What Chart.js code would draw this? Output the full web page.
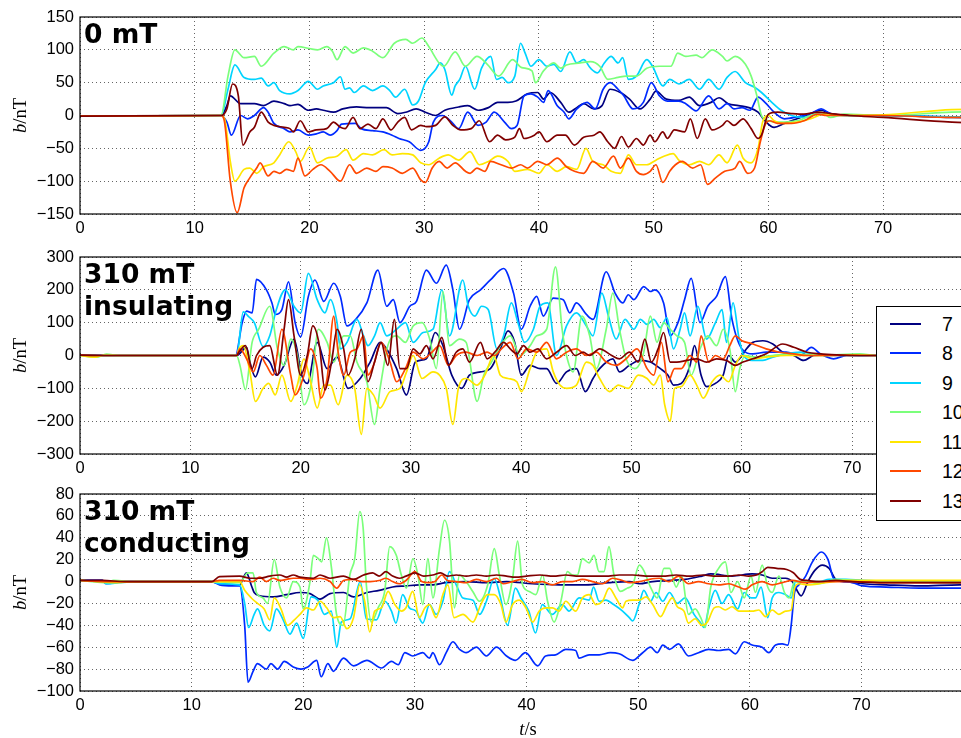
<!DOCTYPE html>
<html lang="en">
<head>
  <meta charset="UTF-8">
  <title>b/nT vs t/s</title>
  <script src="https://cdn.jsdelivr.net/npm/chart.js"></script>
  <style>
    html, body { margin: 0; padding: 0; background: #fff; }
    #page { position: relative; width: 961px; height: 738px; overflow: hidden; background: #fff; }
    #page canvas { position: absolute; left: 0; }
    #legend {
      position: absolute; left: 876px; top: 306px; width: 130px; height: 213px;
      border: 1.3px solid #000; background: #fff; z-index: 5;
      font-family: "Liberation Sans", Arial, sans-serif; font-size: 19.5px;
    }
    #legend .row { position: absolute; left: 0; height: 22px; width: 130px; }
    #legend .ln { position: absolute; left: 13px; top: 10px; width: 31px; height: 2px; }
    #legend .tx { position: absolute; left: 65px; top: 0; line-height: 22px; }
  </style>
</head>
<body>
  <div id="page">
    <canvas id="c1" width="1012" height="240" style="top:0px"></canvas>
    <canvas id="c2" width="1012" height="240" style="top:240px"></canvas>
    <canvas id="c3" width="1012" height="262" style="top:476px"></canvas>
    <div id="legend"></div>
  </div>

  <script>
    // probe numbers and their jet colours
    const seriesNames = ['7', '8', '9', '10', '11', '12', '13'];
    const seriesColors = ['#000080', '#002bff', '#00d4ff', '#7bff7b', '#ffe600', '#ff4800', '#800000'];

    const xTicks = [0, 10, 20, 30, 40, 50, 60, 70, 80];
    const yTicks1 = [-150, -100, -50, 0, 50, 100, 150];
    const yTicks2 = [-300, -200, -100, 0, 100, 200, 300];
    const yTicks3 = [-100, -80, -60, -40, -20, 0, 20, 40, 60, 80];

    // ---- panel 1 : 0 mT  ([t in s, b in nT])
    const p1s7 = [[0,-1],[12.3,0],[12.8,15],[13.1,30],[14,18],[15.2,18],[16,15],[16.9,22],[17.8,18],[18.3,15],[19,17],[19.9,8],[20.6,10],[21.2,8],[22.1,5],[22.9,10],[24.1,13],[25.2,12],[26.7,12],[27.7,3],[28.4,5],[29.3,10],[30.1,5],[31,0],[31.8,8],[33,13],[33.8,15],[34.7,8],[35.6,12],[36.4,20],[37.3,20],[38,22],[39,33],[39.9,35],[40.4,25],[41,35],[41.9,20],[42.6,5],[43.3,12],[43.9,18],[44.8,10],[45.5,15],[46.2,40],[47.1,35],[47.9,25],[48.8,10],[49.7,25],[50.2,37],[51.1,25],[52.2,23],[53.1,28],[54,15],[55,20],[55.7,27],[56.5,18],[57.4,15],[58.3,12],[59.1,5],[59.7,-8],[60.5,-18],[61.4,-12],[62.5,-5],[63.7,3],[64.6,8],[65.4,3],[67,0],[70,0],[76,-3],[80,-4]];
    const p1s8 = [[0,-1],[12.3,0],[12.8,-10],[13.2,-30],[14,0],[14.6,-5],[15.2,0],[16,12],[16.4,5],[16.9,-12],[17.8,-20],[18.3,-25],[19,-22],[19.9,-30],[20.6,-28],[21.2,-25],[21.8,-30],[22.4,-23],[22.8,-13],[24,-12],[24.5,-20],[25.5,-23],[26.4,-25],[27.2,-30],[27.8,-35],[28.7,-40],[29.7,-53],[30.4,-40],[30.8,-10],[31.6,0],[32.4,-10],[33,-20],[33.8,5],[34.7,-15],[35.4,-10],[36.1,5],[37,-10],[37.6,-20],[38.1,-15],[38.7,30],[39.3,33],[39.9,28],[40.4,20],[40.8,38],[41.6,15],[42.2,5],[42.6,-5],[43.3,10],[44.2,20],[44.9,10],[45.6,40],[46.2,50],[46.9,40],[47.4,30],[48.2,10],[49.1,20],[49.8,50],[50.5,30],[51.2,22],[52.2,22],[52.8,18],[53.7,7],[54.8,30],[55.7,10],[56.4,18],[57,10],[57.7,12],[58.4,8],[59.1,28],[59.7,20],[60.5,5],[61.4,-5],[62.5,-2],[63.7,3],[64.6,10],[65.4,3],[66.6,0],[70,0],[76,-2],[80,-3]];
    const p1s9 = [[0,-1],[12.3,0],[12.9,40],[13.5,77],[14.3,58],[15.2,55],[15.8,57],[16.4,45],[16.9,50],[17.4,38],[18.3,33],[19,38],[19.9,52],[20.7,40],[21.2,45],[22.1,50],[22.7,59],[23.1,40],[23.5,42],[23.9,35],[24.7,45],[25.5,38],[26.4,45],[27,38],[27.5,28],[28.3,40],[29,16],[29.5,22],[30.1,50],[31,70],[31.4,80],[31.8,70],[32.4,31],[32.7,45],[33.1,55],[33.6,75],[34.4,40],[35,72],[35.8,90],[36.3,55],[36.8,58],[37.3,50],[37.9,60],[38.4,110],[38.8,95],[39.3,75],[40,85],[40.7,75],[41.3,78],[41.9,67],[42.7,97],[43.3,80],[43.9,85],[44.5,72],[45.1,65],[45.7,80],[46.3,90],[46.9,80],[47.3,88],[47.8,55],[48.5,60],[49.4,85],[49.9,75],[50.8,45],[51.4,55],[52.2,48],[53.1,55],[54,40],[54.8,55],[55.7,40],[56.4,58],[57.1,67],[58,50],[58.8,43],[59.4,35],[60.3,20],[61.1,8],[62,0],[63.1,-3],[64.3,2],[66,0],[70,0],[76,-2],[80,-2]];
    const p1s10 = [[0,-1],[12.3,0],[12.9,60],[13.5,100],[14.3,88],[15.2,90],[15.8,75],[16.9,95],[17.8,105],[18.6,100],[19,105],[20,102],[20.7,100],[21.5,105],[22,98],[22.4,85],[23.1,105],[23.8,95],[24.7,103],[25.5,98],[26.4,88],[27.4,110],[28.4,116],[29,110],[29.8,118],[30.4,105],[31.3,80],[31.7,75],[32.7,97],[33.6,75],[34.6,90],[35.5,78],[36.5,60],[37.7,85],[38.5,73],[39.4,68],[39.7,50],[40.4,68],[41.3,80],[41.9,72],[42.4,77],[43.6,80],[44.5,82],[45.3,75],[46,55],[46.9,58],[47.6,60],[48.5,60],[49.4,72],[50.5,75],[51.5,75],[52.1,95],[52.8,90],[53.7,92],[54.2,88],[55.1,100],[56,90],[56.4,83],[57.1,90],[58,78],[58.5,60],[59,30],[59.4,0],[60,-8],[60.8,-10],[62.5,-8],[63.7,0],[64.6,5],[65.4,-3],[66.6,2],[70,0],[76,5],[80,6]];
    const p1s11 = [[0,-1],[12.3,0],[12.6,-5],[13.1,-70],[13.5,-100],[14.3,-82],[14.8,-80],[15.4,-88],[16,-78],[16.9,-72],[17.4,-60],[18.2,-40],[18.8,-55],[19.2,-70],[20,-48],[20.7,-72],[21.5,-65],[22.4,-62],[23.2,-52],[23.8,-68],[24.7,-58],[25.5,-60],[26.5,-52],[27.2,-60],[28.1,-58],[29,-60],[29.7,-72],[30.4,-75],[31.3,-65],[32.1,-60],[33,-68],[34,-55],[34.8,-75],[35.6,-70],[36.4,-62],[37.3,-70],[37.9,-85],[39,-82],[40,-88],[40.7,-75],[41.6,-85],[42.4,-78],[43.3,-82],[44.1,-50],[44.7,-70],[45.6,-75],[46.3,-85],[47.1,-88],[47.8,-60],[48.5,-75],[49.4,-75],[50.2,-68],[50.9,-62],[51.7,-58],[52.2,-68],[53.1,-75],[54,-70],[54.8,-75],[55.7,-60],[56.4,-72],[57.3,-45],[57.8,-65],[58.5,-72],[59.1,-50],[59.5,-10],[60,0],[60.5,-8],[61.4,-12],[62.5,-10],[63.7,-5],[64.8,2],[66.6,0],[70,1],[76,9],[80,10]];
    const p1s12 = [[0,-1],[12.3,0],[12.6,-10],[13.1,-100],[13.7,-148],[14.3,-110],[14.8,-95],[15.4,-80],[15.7,-72],[16.4,-92],[16.9,-85],[17.4,-88],[18,-82],[18.6,-85],[19,-65],[19.6,-92],[20.3,-82],[21,-75],[21.8,-85],[22.7,-100],[23.5,-75],[24.1,-88],[25,-80],[25.8,-85],[26.4,-78],[27.2,-80],[28.1,-88],[29,-80],[29.7,-98],[30.1,-102],[30.7,-80],[31.3,-70],[32,-80],[32.7,-72],[33.6,-85],[34,-88],[34.6,-80],[35.3,-85],[35.8,-70],[36.7,-75],[37.6,-80],[38.4,-75],[39,-80],[39.9,-70],[40.7,-75],[41.6,-65],[42.4,-78],[43.1,-85],[43.9,-88],[44.7,-70],[45.6,-80],[46.5,-62],[47.1,-80],[47.8,-65],[48.5,-85],[49.1,-90],[49.7,-85],[50.2,-75],[50.8,-102],[51.4,-85],[51.9,-75],[52.5,-70],[53.4,-80],[54.1,-75],[54.7,-105],[55.4,-95],[56.2,-85],[57.1,-80],[57.5,-70],[58.2,-88],[58.8,-80],[59.3,-40],[59.7,-15],[60.1,-8],[60.8,-12],[62,-12],[63.1,-8],[64.3,2],[65.1,0],[70,0],[76,-3],[80,-3]];
    const p1s13 = [[0,-1],[12.3,0],[12.8,10],[13.3,48],[13.8,30],[14.2,-45],[14.8,-25],[15.2,-18],[15.8,5],[16.4,-10],[16.9,-15],[17.8,-18],[18.3,-20],[18.6,-25],[19.2,-8],[19.9,-25],[20.6,-22],[21.5,-20],[22.1,-10],[22.7,-18],[23.1,-20],[23.8,-3],[24.4,-20],[25.1,-13],[25.8,-20],[26.4,-5],[27.1,-22],[27.7,-10],[28.3,-3],[28.9,-22],[29.7,-15],[30.2,-17],[31,-15],[31.8,-2],[32.5,-15],[33.2,-22],[34.1,-20],[34.8,-8],[35.7,-40],[36.4,-30],[37.1,-37],[37.9,-33],[38.3,-20],[38.7,-35],[39.6,-30],[40,-25],[40.7,-40],[41.6,-30],[42.3,-30],[43.1,-45],[43.9,-33],[44.8,-30],[45.3,-25],[46,-40],[46.6,-50],[47.2,-32],[47.8,-48],[48.5,-35],[49.1,-45],[49.7,-30],[50.1,-40],[50.8,-25],[51.2,-35],[51.8,-22],[52.7,-25],[53.2,-5],[53.8,-35],[54.5,-5],[55.1,-22],[56,-15],[56.4,-8],[57,-15],[57.8,-5],[58.5,-20],[59.1,-35],[59.4,-30],[60,2],[60.8,5],[62,3],[63.1,2],[64.3,5],[65.4,3],[67.1,0],[70,-3],[76,-10],[80,-12]];

    // ---- panel 2 : 310 mT insulating
    const p2s7 = [[0,2],[3,0],[14.2,0],[15.1,25],[15.4,-20],[15.9,-65],[16.6,-5],[17.2,-20],[17.8,-60],[18.5,-30],[19.4,50],[20.1,-60],[20.6,-85],[21.5,40],[22.4,-40],[23.3,-5],[24.3,-100],[25.4,-70],[26.3,-20],[27.2,40],[27.8,20],[28.7,-40],[29.6,-120],[30.4,-20],[31.4,-10],[32.2,70],[32.9,30],[33.7,-60],[34.6,-100],[35.3,-60],[36.3,-50],[37.2,-40],[38.1,20],[38.8,75],[39.4,40],[40,-60],[40.8,-30],[41.7,-40],[42.3,-40],[43.2,-85],[44.1,-50],[45,-40],[45.8,-110],[46.5,-70],[47.1,-40],[48.3,-10],[48.9,-50],[49.8,-30],[50.8,-15],[51.7,-20],[52.6,-40],[53.3,-60],[53.8,-90],[54.5,-85],[55.3,-30],[55.7,30],[56.3,-60],[56.8,-95],[57.6,-85],[58.3,-60],[58.8,0],[59.4,-20],[60,0],[60.4,20],[61,40],[61.9,45],[62.8,35],[63.7,10],[64.7,0],[65.6,-15],[66.5,0],[67.7,2],[72,0],[85,0]];
    const p2s8 = [[0,1],[3,0],[14.1,0],[14.7,100],[15.1,135],[15.6,130],[16,232],[16.9,200],[17.4,160],[17.7,125],[18.3,140],[18.9,224],[19.5,100],[20,57],[20.7,180],[21.3,230],[22.1,165],[23,220],[23.6,180],[24.2,90],[25,110],[26,160],[27,260],[27.8,150],[28.4,170],[29,100],[29.9,150],[30.5,165],[31.4,260],[32.3,220],[33.2,275],[33.8,200],[34.4,80],[35.3,170],[36.3,200],[37.2,230],[38.4,265],[39.3,190],[40,80],[40.8,150],[41.4,180],[42,120],[42.9,175],[43.8,170],[44.4,130],[45,160],[45.9,125],[46.5,110],[47.7,255],[48.5,190],[49.2,160],[49.7,185],[50.2,170],[51.1,210],[51.7,195],[52.1,200],[52.9,160],[53.5,60],[54.2,100],[54.8,170],[55.4,235],[56.2,100],[56.9,150],[57.7,180],[58.5,240],[59.1,110],[60,20],[61,5],[62.2,10],[64,10],[65.3,0],[66.3,25],[67.1,5],[68.3,-10],[69.5,0],[72,0],[85,0]];
    const p2s9 = [[0,1],[3,0],[14.2,0],[14.8,133],[15.3,118],[15.8,100],[16.6,27],[17.2,60],[17.8,140],[18.6,200],[19.4,150],[20,130],[20.7,250],[21.5,170],[22.2,130],[22.7,170],[23.3,100],[23.6,20],[24.2,40],[25.1,110],[25.7,60],[26.1,30],[26.7,60],[27.2,100],[27.8,60],[28.7,80],[29.5,100],[30.2,40],[31.1,70],[32,80],[32.8,200],[33.5,60],[34.7,230],[35.2,150],[35.8,120],[36.4,150],[37,140],[37.8,20],[38.4,60],[39.1,160],[39.7,100],[40.3,40],[41.1,80],[41.7,150],[42.4,160],[43.2,0],[44.1,90],[45,130],[45.9,90],[46.5,60],[47.3,190],[47.9,120],[48.6,50],[49.4,110],[50.2,80],[50.8,110],[51.4,95],[52,110],[52.6,85],[53.2,115],[53.8,20],[54.4,80],[54.8,130],[55.3,60],[56,150],[56.8,50],[57.6,100],[58.2,140],[58.6,40],[59.2,160],[59.7,60],[60.1,5],[60.9,-15],[61.9,-15],[62.8,-5],[64,5],[65.3,10],[66.5,5],[67.7,0],[72,0],[85,0]];
    const p2s10 = [[0,0],[1.5,-5],[2.4,4],[3.5,0],[14.2,0],[14.5,-30],[15,-104],[15.6,40],[16.2,80],[17.2,150],[17.9,20],[18.5,-30],[19.1,50],[19.7,0],[20.3,-150],[21,-80],[21.6,80],[22.4,40],[23,-20],[23.9,60],[24.5,60],[25.1,-20],[26,-80],[26.7,-210],[27.2,-100],[27.9,30],[28.7,60],[29.5,40],[30.2,90],[31,100],[31.7,50],[32.3,-40],[32.9,195],[33.5,30],[34.4,50],[35,40],[36,-140],[36.6,-60],[37.3,-20],[38.1,30],[39,60],[39.9,0],[40.8,30],[41.4,60],[42.3,80],[43.1,270],[43.7,80],[44.1,0],[44.7,-50],[45.5,120],[46.2,60],[46.8,-40],[47.7,80],[48.3,190],[48.9,80],[49.5,-10],[50.3,-40],[51.1,10],[51.7,120],[52.3,40],[52.9,100],[53.5,80],[54.1,60],[54.8,40],[55.4,-60],[56.2,20],[56.9,60],[57.7,30],[58.3,80],[58.9,20],[59.4,-110],[59.8,-40],[60.3,0],[61.3,-5],[62.8,0],[64.7,5],[67.1,0],[70.7,5],[72,0],[85,0]];
    const p2s11 = [[0,0],[1.3,-5],[2,0],[14.2,0],[14.4,20],[14.8,30],[15.4,-50],[15.9,-140],[16.6,-100],[17.1,-85],[17.7,-120],[18.3,-60],[19.1,-140],[19.7,-90],[20.3,-10],[20.9,-80],[21.5,-160],[22.1,-90],[22.7,-90],[23.4,-150],[24.2,-60],[24.9,-100],[25.5,-240],[26,-100],[26.6,-120],[27.2,-160],[28.1,-110],[29,-100],[29.6,-50],[30.2,0],[31,-70],[32,-50],[32.6,-60],[33.2,-100],[33.8,-210],[34.3,-100],[35,-70],[36,-90],[36.7,-60],[37.5,0],[38.1,-60],[38.8,-70],[39.6,-80],[40,-110],[40.8,-40],[41.4,10],[42.3,20],[42.9,-50],[43.5,-90],[44.1,-100],[45,-90],[45.9,-20],[46.5,-30],[47.1,-70],[48,-110],[48.8,-90],[49.7,-100],[50.6,-60],[51.4,-70],[52,-90],[52.6,-60],[53,-150],[53.5,-200],[53.9,-100],[54.5,-95],[55.3,-60],[55.9,-90],[56.5,-130],[57.3,-80],[58,-60],[58.8,-80],[59.4,-30],[60,0],[61,-10],[62.2,-5],[64,0],[67.1,0],[70.1,2],[72,0],[85,0]];
    const p2s12 = [[0,1],[3,0],[14.2,0],[14.5,20],[15.1,-10],[15.7,-50],[16.3,0],[16.9,-30],[17.5,-60],[18.3,80],[19.1,-60],[19.5,-120],[20.3,-60],[20.9,20],[21.5,-40],[21.8,-130],[22.4,-70],[23,120],[23.4,10],[23.9,-60],[24.5,10],[25.1,20],[25.7,60],[26.1,-60],[26.6,-30],[27.3,40],[28.1,-20],[28.7,-80],[29.5,-40],[30.2,10],[31.1,-10],[31.9,10],[32.6,30],[33.4,-30],[34.1,0],[35,10],[36,0],[36.9,10],[37.6,0],[38.2,20],[39,40],[39.7,-10],[40.5,20],[41.4,10],[42.3,40],[43.2,-10],[44.1,10],[45,20],[45.9,0],[46.8,10],[47.7,-20],[48.6,-30],[49.5,-10],[50.5,20],[51.4,-40],[52,-60],[52.7,40],[53.3,-80],[53.9,-40],[54.5,-40],[55.3,0],[55.9,-20],[56.3,60],[57,-20],[57.6,0],[58.3,-10],[58.9,30],[59.4,60],[60,45],[61,35],[62.2,20],[63.4,10],[64.7,5],[65.9,0],[72,0],[85,0]];
    const p2s13 = [[0,1],[3,0],[14.2,0],[14.4,10],[15,30],[15.6,-40],[16,0],[16.6,25],[17.2,30],[17.9,-60],[18.5,80],[18.9,170],[19.4,60],[20,-60],[20.6,0],[21.1,90],[21.7,30],[22.2,-105],[22.8,-20],[23.3,80],[23.9,20],[24.3,-60],[24.9,-10],[25.5,80],[26.1,-80],[26.7,-20],[27.3,40],[27.9,-30],[28.5,110],[29,-40],[29.6,-40],[30.2,20],[30.8,5],[31.4,30],[32,-10],[32.8,55],[33.4,-30],[34.1,10],[34.7,20],[35.3,-20],[36.3,40],[36.9,-10],[37.6,10],[38.4,40],[39,20],[39.6,5],[40.2,30],[40.8,10],[41.5,20],[42.3,-10],[43.2,10],[44.1,30],[44.9,0],[45.6,10],[46.2,0],[47.1,20],[48.2,0],[48.9,-10],[49.8,10],[50.6,-20],[51.2,50],[51.8,-20],[52.4,20],[52.9,70],[53.5,-20],[54.1,-20],[55,-15],[55.9,-10],[56.8,-20],[57.7,-10],[58.6,-15],[59.4,-30],[60.1,-20],[61,-10],[62.2,5],[63.7,35],[64.7,25],[65.9,10],[67.1,5],[68.6,2],[70.7,0],[72,0],[85,0]];

    // ---- panel 3 : 310 mT conducting
    const p3s7 = [[0,1],[2,1],[2.3,-1],[4,0],[11.8,0],[12.5,-2],[14.3,-3],[14.9,8],[15.4,-5],[15.6,-10],[16.1,-13],[17.3,-14],[18.5,-12],[19.7,-10],[20.6,-11],[21.5,-16],[22.4,-11],[23.6,-10],[24.5,-14],[25.7,-10],[26.8,-8],[28,-5],[29.2,-4],[30.4,-3],[31.6,-3],[32.8,-1],[34.6,0],[36.4,-1],[38.2,0],[40.5,-2],[42.9,-3],[45.3,-3],[47.4,-1],[49.2,0],[50.1,-2],[51.3,0],[52.8,1],[54.2,2],[55.7,5],[56.5,7],[58.4,5],[60.2,7],[61.1,6],[62,3],[63.2,3],[63.8,0],[64.6,-13],[65.2,0],[65.8,10],[66.5,15],[67.1,12],[67.7,2],[68.6,0],[70.1,-2],[72.2,-3],[75.2,-4],[78.8,-3],[84,-3]];
    const p3s8 = [[0,1],[2,1],[2.3,-2],[4,0],[11.8,0],[12.5,-3],[13.7,-4],[14.3,-4],[14.75,-40],[15.05,-92],[15.5,-82],[15.9,-75],[16.7,-80],[17.1,-75],[17.7,-80],[18.3,-73],[19.1,-78],[19.8,-80],[20.4,-78],[21.2,-72],[21.6,-87],[22.2,-75],[22.7,-82],[23.6,-70],[24.5,-77],[25.7,-72],[27,-79],[27.9,-73],[28.5,-76],[29.1,-65],[29.8,-68],[30.7,-65],[31.3,-70],[31.6,-65],[32.2,-76],[32.8,-65],[33.4,-55],[34,-62],[34.6,-65],[35.5,-60],[36.4,-68],[37.3,-60],[38.2,-68],[39,-72],[39.9,-65],[41,-77],[41.7,-68],[42.6,-67],[43.5,-62],[44.4,-63],[44.7,-70],[45.6,-67],[46.5,-67],[47.5,-65],[48.3,-66],[49.5,-72],[50.4,-65],[51.1,-60],[51.7,-65],[52.2,-58],[52.8,-62],[53.6,-57],[54.5,-68],[55.4,-65],[56.3,-62],[57.2,-63],[58.1,-62],[58.7,-66],[59.5,-55],[60.2,-58],[61.1,-60],[61.7,-65],[62.3,-58],[62.9,-57],[63.4,-58],[63.7,-40],[64,-10],[64.4,-3],[65,5],[65.6,18],[66.4,27],[67,20],[67.5,3],[68.3,0],[69.2,-1],[70.1,-4],[72.2,-5],[75.2,-6],[78.8,-6],[84,-6]];
    const p3s9 = [[0,1],[2,0],[2.5,-2],[3.5,-1],[5,0],[11.8,0],[12.5,-2],[14.3,-3],[14.75,-20],[15.1,-42],[15.6,-30],[15.9,-25],[16.5,-40],[17,-45],[17.6,-25],[18.2,-35],[18.8,-48],[19.4,-38],[20,-52],[20.7,-14],[21.3,-17],[21.9,-30],[22.5,-27],[23,-60],[23.4,-37],[24.2,-34],[25.1,0],[25.65,-34],[26.55,-35],[27.3,-18],[27.9,-27],[28.3,-38],[28.9,-12],[29.5,-24],[30.1,-27],[30.7,-38],[31.3,-21],[31.9,-30],[32.5,-18],[33.1,9],[33.7,-3],[34.3,-15],[35.2,-17],[35.8,-30],[36.4,-18],[37.1,3],[37.6,-12],[38.3,-40],[39,-6],[39.5,-15],[40.2,-27],[40.8,-47],[41.4,-21],[42.3,-30],[43.2,-21],[43.8,-27],[44.7,-15],[45.6,-17],[46,-5],[46.5,-18],[47.1,-17],[47.8,-21],[48.6,-27],[49.2,-33],[49.5,-36],[50.1,-20],[50.5,-8],[51.1,-18],[51.6,-10],[52.2,-18],[52.8,-10],[53.5,-20],[54.2,-15],[55,-30],[55.6,-38],[55.9,-42],[56.3,-25],[56.9,-8],[57.5,-20],[58.1,-12],[58.9,-25],[59.5,-10],[60.1,-15],[60.5,-15],[61,-5],[61.6,-33],[62,-15],[62.6,-10],[63.2,-12],[63.7,-15],[64.1,0],[65,0],[66.2,0],[67.1,2],[68.6,2],[70.1,1],[73.7,0],[78.8,-1],[84,-1]];
    const p3s10 = [[0,1],[2.5,-1],[3,1],[5,0],[11.8,0],[14.3,-1],[15.05,8],[15.5,8],[15.8,-10],[16.4,-15],[16.8,-20],[17.4,20],[17.9,-5],[18.5,-15],[19.1,0],[19.7,-5],[20,-25],[20.6,0],[20.9,24],[21.34,21],[21.64,18],[22.08,40],[22.53,12],[22.98,-30],[23.57,-40],[24.17,6],[24.61,21],[25.06,64],[25.36,49],[25.65,-3],[26.1,-37],[26.7,-24],[27.29,-9],[27.74,32],[28.33,24],[28.78,6],[29.23,-6],[29.82,21],[30.27,6],[30.71,-21],[31.16,21],[31.61,-15],[32.2,30],[32.65,56],[33.1,37],[33.54,-24],[33.99,6],[34.58,0],[35.18,-9],[35.77,-18],[36.52,-3],[37.11,30],[37.56,6],[38.15,-21],[38.75,3],[39.2,37],[39.64,-3],[40.24,-9],[40.83,-12],[41.43,6],[41.88,-18],[42.47,-37],[43.07,-18],[43.66,9],[44.11,6],[44.55,6],[45,21],[45.6,17],[46.04,24],[46.49,9],[46.93,9],[47.38,32],[47.83,6],[48.42,-9],[49.02,-6],[49.5,-3],[50.1,15],[50.5,10],[51.1,-5],[51.7,-15],[52.3,12],[52.8,12],[53.4,-5],[53.9,5],[54.5,-30],[55.1,-25],[55.6,-33],[56,-42],[56.5,-5],[57.2,12],[57.8,18],[58.3,-10],[58.9,0],[59.5,-15],[60.1,5],[60.5,-10],[61.1,15],[61.6,-5],[62,-10],[62.6,5],[63.1,-10],[63.5,-15],[64,0],[65,0],[66.2,-2],[67.7,2],[69.2,1],[72.2,0],[84,0]];
    const p3s11 = [[0,1],[2,0],[3,-1],[5,0],[11.8,0],[14.3,0],[14.75,-8],[15.35,-15],[15.9,-20],[16.5,-25],[17,-35],[17.4,-15],[18,-25],[18.6,-40],[19.2,-35],[19.7,-30],[20.3,-24],[20.9,-26],[21.5,-18],[22.1,-24],[22.7,-33],[23.3,-32],[23.9,-43],[24.5,-33],[25.06,-3],[25.5,-18],[25.95,-46],[26.4,-27],[27,-24],[27.6,-9],[28.2,-21],[28.8,-27],[29.2,-24],[29.8,-9],[30.4,-33],[30.9,-24],[31.3,-21],[31.9,-33],[32.5,-12],[32.95,-3],[33.5,-33],[34.3,-30],[35.2,-37],[35.9,-21],[36.5,-12],[37.1,-12],[37.7,-21],[38.15,-37],[38.75,-21],[39.35,-17],[39.94,-24],[40.54,-37],[41.13,-27],[41.73,-24],[42.32,-24],[42.92,-27],[43.51,-18],[44.4,-27],[45,-15],[45.6,-12],[46.2,-21],[46.8,-18],[47.4,-6],[48,-15],[48.6,-24],[48.9,-18],[49.5,-17],[50.1,-17],[50.7,-14],[51.3,-21],[52,-32],[52.6,-21],[53.05,-15],[53.5,-23],[54.1,-27],[54.5,-38],[55.1,-34],[55.7,-40],[56.2,-37],[56.8,-24],[57.2,-23],[57.8,-26],[58.4,-23],[59,-27],[59.6,-27],[60.2,-27],[60.8,-26],[61.4,-32],[62,-26],[62.6,-30],[63.2,-27],[63.7,-26],[64,-6],[64.4,-2],[65.3,-3],[66.2,-2],[67.4,0],[69.2,1],[72.2,1],[75.2,1],[78.8,1],[84,1]];
    const p3s12 = [[0,1],[2,0],[4,0],[11.8,0],[12.5,1],[14.3,1],[15.5,0],[16.1,4],[16.7,0],[17.3,3],[17.9,1],[18.5,2],[19.1,3],[19.7,3],[20.6,2],[21.5,3],[22.4,0],[23,-6],[23.6,1],[24.5,2],[25.2,0],[26,0],[26.8,1],[27.4,3],[28,0],[28.6,-2],[29.2,1],[30,9],[30.6,0],[31.2,-1],[31.8,0],[32.4,6],[32.9,1],[33.7,0],[34.6,-1],[35.5,2],[36.4,0],[37.3,3],[37.9,-2],[38.75,0],[39.6,2],[40.5,-1],[41.4,0],[42.3,-3],[43.2,0],[44.1,0],[45,2],[45.9,0],[46.8,-2],[47.7,3],[48.6,1],[49.2,-1],[50.1,0],[51,2],[51.9,3],[52.75,0],[53.6,5],[54.5,-2],[55.4,0],[56.3,-2],[57.2,-3],[58.1,-2],[59,-5],[59.6,-7],[60.2,-3],[61.1,0],[62,-3],[62.9,-1],[63.8,1],[65,-1],[66.2,0],[69.2,0],[72.2,-1],[84,-1]];
    const p3s13 = [[0,1],[2,1],[4,0],[11.8,0],[12.5,4.5],[14.3,5],[15.2,3],[16.1,3],[17,5],[17.9,6],[18.5,4],[19.1,6],[19.7,4],[20.9,3],[21.5,6],[22.4,3],[23.6,5],[24.5,2],[25.4,6],[26.2,8],[26.8,5],[27.4,9],[28,5],[28.6,3],[29.2,5],[30,8],[30.8,5],[31.6,6],[32.3,8],[32.9,5],[33.7,6],[34.6,5],[35.5,6],[36.4,5],[37.3,6],[38.2,5],[39,4],[40,5],[41.2,6],[42.4,5],[43.5,6],[44.7,5],[45.9,5],[47.1,5],[48.3,6],[49.5,6],[51,5],[52.2,5],[53.4,6],[54.6,5],[55.8,6],[57,5],[58.1,5],[59,6],[59.9,5],[60.6,6],[61.1,9],[61.6,13],[62.4,12],[63.3,11],[63.9,8],[64.5,2],[65.1,1],[66.2,0],[67.7,1],[69.2,0],[72.2,-1],[84,-1]];

    const panel1 = [p1s7, p1s8, p1s9, p1s10, p1s11, p1s12, p1s13];
    const panel2 = [p2s7, p2s8, p2s9, p2s10, p2s11, p2s12, p2s13];
    const panel3 = [p3s7, p3s8, p3s9, p3s10, p3s11, p3s12, p3s13];

    const tickFont = { family: '"Liberation Sans", Arial, sans-serif', size: 16.5 };

    function fmt(v) {
      return v < 0 ? '\u2212' + Math.abs(v) : String(v);
    }

    // frame, panel label and y label (italic b)
    const decor = {
      id: 'decor',
      afterDraw(chart, args, o) {
        const { ctx, chartArea: a } = chart;
        ctx.save();
        ctx.strokeStyle = '#000';
        ctx.lineWidth = 1.2;
        ctx.strokeRect(a.left, a.top, a.right - a.left, a.bottom - a.top);

        ctx.fillStyle = '#000';
        ctx.textBaseline = 'alphabetic';
        ctx.textAlign = 'left';
        ctx.font = 'bold 26.5px "DejaVu Sans"';
        o.label.forEach((s, i) => ctx.fillText(s, a.left + 4, a.top + 26 + i * 32));

        ctx.translate(26, (a.top + a.bottom) / 2);
        ctx.rotate(-Math.PI / 2);
        const f1 = 'italic 18.5px "Liberation Serif"', f2 = '18.5px "Liberation Serif"';
        ctx.font = f1; const w1 = ctx.measureText('b').width;
        ctx.font = f2; const w2 = ctx.measureText('/nT').width;
        let x = -(w1 + w2) / 2;
        ctx.font = f1; ctx.fillText('b', x, 0);
        ctx.font = f2; ctx.fillText('/nT', x + w1, 0);
        ctx.restore();

        if (o.xTitle) {
          ctx.save();
          ctx.fillStyle = '#000';
          ctx.textBaseline = 'alphabetic';
          const g1 = 'italic 18.5px "Liberation Serif"', g2 = '18.5px "Liberation Serif"';
          ctx.font = g1; const v1 = ctx.measureText('t').width;
          ctx.font = g2; const v2 = ctx.measureText('/s').width;
          let xx = 528 - (v1 + v2) / 2;
          ctx.font = g1; ctx.fillText('t', xx, o.xTitle);
          ctx.font = g2; ctx.fillText('/s', xx + v1, o.xTitle);
          ctx.restore();
        }
      }
    };

    function makePanel(id, data, xMax, yTicks, padTop, xHeight, label, xTitle) {
      return new Chart(document.getElementById(id), {
        type: 'line',
        data: {
          datasets: data.map((pts, i) => ({
            label: seriesNames[i],
            data: pts.map(([t, b]) => ({ x: t, y: b })),
            borderColor: seriesColors[i],
            borderWidth: 1.7,
            pointRadius: 0,
            fill: false,
            cubicInterpolationMode: 'monotone',
            order: data.length - 1 - i
          }))
        },
        options: {
          responsive: false,
          animation: false,
          layout: { padding: { top: padTop, right: 2, left: 0, bottom: 0 } },
          plugins: {
            legend: { display: false },
            tooltip: { enabled: false },
            decor: { label: label, xTitle: xTitle }
          },
          scales: {
            x: {
              type: 'linear', min: 0, max: xMax,
              afterBuildTicks: s => { s.ticks = xTicks.filter(v => v <= xMax).map(v => ({ value: v })); },
              afterFit: s => { s.height = xHeight; },
              ticks: { font: tickFont, color: '#000', padding: 5, maxRotation: 0, autoSkip: false, callback: fmt },
              grid: { color: 'rgba(0,0,0,0.6)', lineWidth: 1, drawTicks: false },
              border: { display: false, dash: [1, 3] }
            },
            y: {
              min: yTicks[0], max: yTicks[yTicks.length - 1],
              afterBuildTicks: s => { s.ticks = yTicks.map(v => ({ value: v })); },
              afterFit: s => { s.width = 80; },
              ticks: { font: tickFont, color: '#000', padding: 6, autoSkip: false, callback: fmt },
              grid: { color: 'rgba(0,0,0,0.6)', lineWidth: 1, drawTicks: false },
              border: { display: false, dash: [1, 3] }
            }
          }
        },
        plugins: [decor]
      });
    }

    makePanel('c1', panel1, 80.0, yTicks1, 17, 26, ['0 mT'], null);
    makePanel('c2', panel2, 84.3, yTicks2, 17, 26, ['310 mT', 'insulating'], null);
    makePanel('c3', panel3, 83.3, yTicks3, 18, 47, ['310 mT', 'conducting'], 259);

    // legend box overlapping panels 2 and 3
    const legend = document.getElementById('legend');
    seriesNames.forEach((name, i) => {
      const row = document.createElement('div');
      row.className = 'row';
      row.style.top = (16.7 + i * 29.55 - 11) + 'px';
      row.innerHTML = '<span class="ln" style="background:' + seriesColors[i] + '"></span><span class="tx">' + name + '</span>';
      legend.appendChild(row);
    });
  </script>
</body>
</html>
